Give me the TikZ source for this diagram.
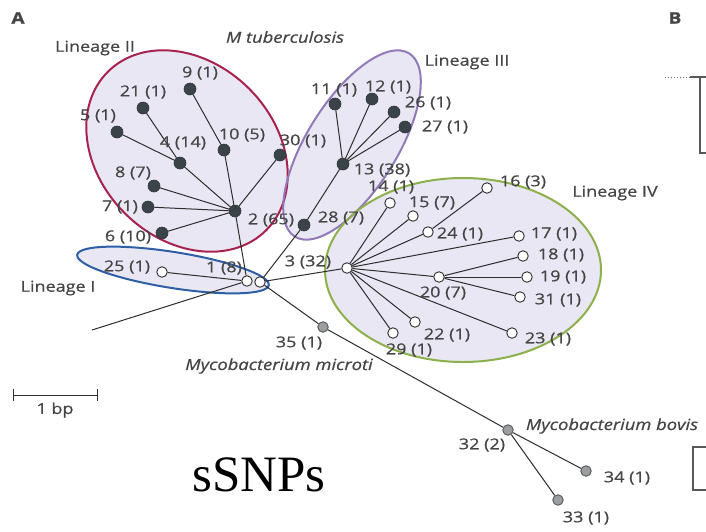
\documentclass[tikz,border=0pt]{standalone}
\usepackage{fontspec}
\setmainfont{Open Sans}[FakeStretch=1.2,FakeBold=0.6]
\newfontfamily\snpfont{Liberation Serif}
\definecolor{lav}{HTML}{E8E7F3}
\definecolor{redl}{HTML}{A82250}
\definecolor{purl}{HTML}{9279B8}
\definecolor{grnl}{HTML}{8CB04C}
\definecolor{blul}{HTML}{2F5FA5}
\definecolor{darkn}{HTML}{3A4448}
\definecolor{grayn}{HTML}{9A9EA0}
\definecolor{txt}{HTML}{454545}
\definecolor{lin}{HTML}{2E2E2E}
\begin{document}
\begin{tikzpicture}[x=1pt,y=-1pt,
  dk/.style={circle,inner sep=0,minimum size=12pt,fill=darkn,draw=darkn!80!black,line width=0.6pt},
  op/.style={circle,inner sep=0,minimum size=10.5pt,fill=white,draw=lin,line width=0.9pt},
  gr/.style={circle,inner sep=0,minimum size=10.5pt,fill=grayn,draw=lin!80,line width=0.9pt},
  lab/.style={text=txt,font=\fontsize{15}{15}\selectfont,inner sep=0},
  itl/.style={text=txt,font=\fontsize{15.3}{15.3}\selectfont\itshape,inner sep=0},
  panel/.style={text=txt,font=\fontsize{16}{16}\selectfont\bfseries,inner sep=0},
  conn/.style={draw=lin,line width=1pt},
  lring/.style={line width=2pt}]
\useasboundingbox (0,0) rectangle (706,531);
\fill[white] (0,0) rectangle (706,531);
% lineage ellipses: fills
\begin{scope}[shift={(187,151)},rotate=-45] \fill[lav] (0,0) ellipse (112 and 88); \end{scope}
\begin{scope}[shift={(352,145)},rotate=58] \fill[lav] (0,0) ellipse (108 and 45); \end{scope}
\fill[lav] (463,270) ellipse (138 and 92);
\begin{scope}[shift={(173,270)},rotate=-9] \fill[lav] (0,0) ellipse (97 and 18); \end{scope}
% outlines
\begin{scope}[shift={(187,151)},rotate=-45] \draw[lring,redl] (0,0) ellipse (112 and 88); \end{scope}
\begin{scope}[shift={(352,145)},rotate=58] \draw[lring,purl] (0,0) ellipse (108 and 45); \end{scope}
\draw[lring,grnl] (463,270) ellipse (138 and 92);
\begin{scope}[shift={(173,270)},rotate=-9] \draw[lring,blul] (0,0) ellipse (97 and 18); \end{scope}
% nodes: lineage II
\node[dk] (n9) at (190,89) {};
\node[dk] (n21) at (143,108) {};
\node[dk] (n5) at (117,132) {};
\node[dk] (n4) at (180,163) {};
\node[dk] (n10) at (224,150) {};
\node[dk] (n30) at (280,155) {};
\node[dk] (n8) at (154,186) {};
\node[dk] (n7) at (148,207) {};
\node[dk] (n6) at (162,233) {};
\node[dk] (n2) at (235,211) {};
% lineage III
\node[dk] (n11) at (335,104) {};
\node[dk] (n12) at (372,99) {};
\node[dk] (n26) at (394,112) {};
\node[dk] (n27) at (405,127) {};
\node[dk] (n13) at (343,164) {};
\node[dk] (n28) at (304,225) {};
% hub and lineage I
\node[op] (n1) at (247,281) {};
\node[op] (nh) at (260,282) {};
\node[op] (n25) at (162,272) {};
\coordinate (og) at (92,330);
% lineage IV
\node[op] (n3) at (347,268) {};
\node[op] (n14) at (390,203) {};
\node[op] (n15) at (413,216) {};
\node[op] (n16) at (487,188) {};
\node[op] (n24) at (428,232) {};
\node[op] (n17) at (519,236) {};
\node[op] (n18) at (523,256) {};
\node[op] (n20) at (439,277) {};
\node[op] (n19) at (527,277) {};
\node[op] (n31) at (520,297) {};
\node[op] (n22) at (415,322) {};
\node[op] (n29) at (393,333) {};
\node[op] (n23) at (512,333) {};
% microti / bovis
\node[gr] (n35) at (323,327) {};
\node[gr] (n32) at (508,430) {};
\node[gr] (n34) at (586,471) {};
\node[gr] (n33) at (558,500) {};
% connectors
\foreach \a/\b in {n2/n6,n2/n7,n2/n8,n2/n4,n4/n5,n4/n21,n2/n10,n10/n9,n2/n30,n2/n1,
  n13/n11,n13/n12,n13/n26,n13/n27,n13/n28,n28/nh,
  n25/n1,nh/n3,nh/n35,n35/n32,n32/n34,n32/n33,
  n3/n14,n3/n15,n3/n24,n24/n16,n3/n17,n3/n20,n20/n18,n20/n19,n20/n31,n3/n22,n3/n29,n3/n23}
  \draw[conn] (\a) -- (\b);
\draw[conn] (og) -- (n1);
% labels
\node[lab] (l9) at (200,73) {9 (1)};
\node[lab] (l21) at (143,92) {21 (1)};
\node[lab] (l5) at (98,116) {5 (1)};
\node[lab] (l4) at (183,143) {4 (14)};
\node[lab] (l10) at (242,135) {10 (5)};
\node[lab] (l30) at (303,141) {30 (1)};
\node[lab] (l8) at (133,173) {8 (7)};
\node[lab] (l7) at (120,207) {7 (1)};
\node[lab] (l6) at (128,237) {6 (10)};
\node[lab] (l2) at (271,220) {2 (65)};
\node[lab] (l28) at (341,218) {28 (7)};
\node[lab] (l11) at (334,90) {11 (1)};
\node[lab] (l12) at (388,87) {12 (1)};
\node[lab] (l26) at (428,103) {26 (1)};
\node[lab] (l27) at (445,127) {27 (1)};
\node[lab] (l13) at (382,170) {13 (38)};
\node[lab] (l1) at (224,268) {1 (8)};
\node[lab] (l25) at (127,267) {25 (1)};
\node[lab] (l3) at (308,262) {3 (32)};
\node[lab] (l14) at (391,187) {14 (1)};
\node[lab] (l15) at (432,203) {15 (7)};
\node[lab] (l16) at (523,182) {16 (3)};
\node[lab] (l24) at (460,234) {24 (1)};
\node[lab] (l17) at (554,234) {17 (1)};
\node[lab] (l18) at (561,255) {18 (1)};
\node[lab] (l19) at (563,277) {19 (1)};
\node[lab] (l31) at (558,300) {31 (1)};
\node[lab] (l20) at (443,293) {20 (7)};
\node[lab] (l22) at (447,335) {22 (1)};
\node[lab] (l29) at (409,350) {29 (1)};
\node[lab] (l23) at (548,339) {23 (1)};
\node[lab] (l35) at (299,343) {35 (1)};
\node[lab] (l32) at (482,445) {32 (2)};
\node[lab] (l34) at (627,478) {34 (1)};
\node[lab] (l33) at (586,518) {33 (1)};
% group names
\node[itl] (mtb) at (285,37) {M tuberculosis};
\node[lab] (lin2) at (95,48) {Lineage II};
\node[lab] (lin3) at (467,62) {Lineage III};
\node[lab] (lin4) at (615,193) {Lineage IV};
\node[lab] (lin1) at (58,288) {Lineage I};
\node[itl] (micro) at (279,366) {Mycobacterium microti};
\node[itl] (bovis) at (612,426) {Mycobacterium bovis};
% scale bar
\draw[conn] (13,395) -- (97,395);
\draw[conn] (13,389) -- (13,401);
\draw[conn] (97,389) -- (97,401);
\node[lab] (bp) at (55,410) {1 bp};
% panel letters
\node[panel] (pA) at (18,18) {A};
\node[panel] (pB) at (675,18) {B};
% panel B fragments
\draw[lin!70,line width=1pt,dotted] (665,77) -- (690,77);
\draw[lin!80,line width=1.2pt] (690,77) -- (706,77);
\draw[lin!80,line width=1.2pt] (700,77) -- (700,153) -- (706,153);
\draw[lin!80,line width=1.2pt] (706,447) -- (693,447) -- (693,490) -- (706,490);
% title
\node[anchor=base west,inner sep=0,font=\snpfont\fontsize{51}{51}\selectfont] (snp) at (192,491) {sSNPs};
\end{tikzpicture}
\end{document}
